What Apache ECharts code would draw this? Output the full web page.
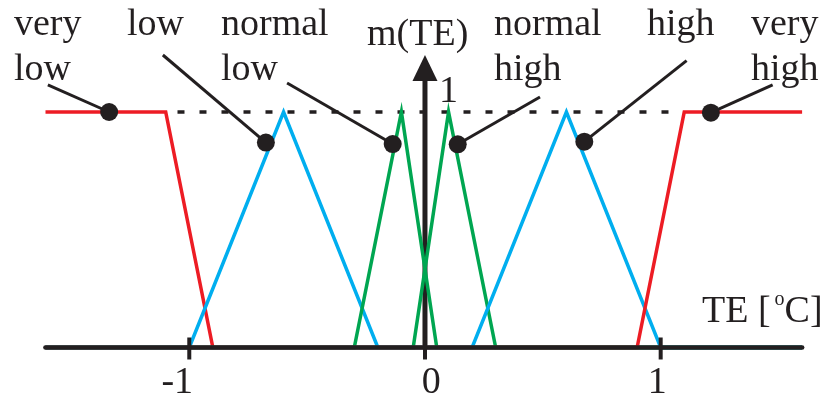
<!DOCTYPE html>
<html><head><meta charset="utf-8">
<script src="https://cdn.jsdelivr.net/npm/echarts@6/dist/echarts.min.js"></script>
<style>html,body{margin:0;padding:0;background:#fff}#c{width:830px;height:401px}</style>
</head><body><div id="c"></div>
<script>
// ---- data (TE in degC, membership m(TE)) ----
const veryLow    = [[-1.61,1],[-1.1,1],[-0.9,0],[1.6,0]];
const low        = [[-1.61,0],[-1.0,0],[-0.6,1],[-0.2,0],[1.6,0]];
const normalLow  = [[-1.61,0],[-0.3,0],[-0.1,1],[0.05,0],[1.6,0]];
const normalHigh = [[-1.61,0],[-0.05,0],[0.1,1],[0.3,0],[1.6,0]];
const high       = [[-1.61,0],[0.2,0],[0.6,1],[1.0,0],[1.6,0]];
const veryHigh   = [[-1.61,0],[0.9,0],[1.1,1],[1.6,1]];
const unityLine  = [[-1.05,1],[1.05,1]];
const xTicks     = [-1,0,1];
const tickLabels = ['-1','0','1'];
const calloutDots = [[-1.34,1.0],[-0.675,0.87],[-0.137,0.864],[0.139,0.863],[0.676,0.874],[1.213,0.997]];
const calloutEnds = [[-1.60,1.115],[-1.112,1.242],[-0.585,1.123],[0.488,1.064],[1.110,1.218],[1.475,1.115]];
const yArrowTop = 1.187;

const INK = '#231F20', RED = '#ED1C24', BLUE = '#00AEEF', GREEN = '#00A651';
const FONT = '"Liberation Serif", "Times New Roman", serif';
const tickLabelDx = [-12, 6.3, -3.4];

const chart = echarts.init(document.getElementById('c'), null, {renderer: 'canvas'});

function mf(data, color) {
  return {type:'line', data, symbol:'none', z:2, silent:true, animation:false, clip:false,
    lineStyle:{color, width:3.5, join:'miter', miterLimit:10}};
}

function txt(text, x, y, extra) {
  return Object.assign({type:'text', x, y, silent:true, z:10,
    style:{text, fill:INK, fontFamily:FONT, fontSize:38, lineHeight:45, align:'left', verticalAlign:'top'}}, extra||{});
}

chart.setOption({
  animation:false,
  backgroundColor:'#fff',
  grid:{left:45.5, right:27.9, top:0, bottom:0, containLabel:false, outerBoundsMode:'none'},
  xAxis:{type:'value', min:-1.61, max:1.6, z:5,
    axisLine:{onZero:true, lineStyle:{color:INK, width:4.7}},
    axisTick:{show:false}, splitLine:{show:false}, axisLabel:{show:false}},
  yAxis:{type:'value', min:-0.2272, max:1.4756, show:false},
  series:[
    {type:'line', data:unityLine, symbol:'none', z:1, silent:true, clip:false,
      lineStyle:{color:INK, width:3.5, type:[7,15]}},
    {type:'line', data:[[0,0],{value:[0,yArrowTop], symbol:'triangle', symbolSize:[25,26]}],
      symbol:'none', showSymbol:true, z:1, silent:true, clip:false,
      itemStyle:{color:INK, borderWidth:0}, lineStyle:{color:INK, width:5}},
    mf(veryLow, RED), mf(low, BLUE), mf(normalLow, GREEN),
    mf(normalHigh, GREEN), mf(high, BLUE), mf(veryHigh, RED),
    {type:'lines', coordinateSystem:'cartesian2d', z:3, silent:true,
      lineStyle:{color:INK, width:3, curveness:0, opacity:1},
      data:calloutDots.map((d,i)=>({coords:[calloutEnds[i], d]}))},
    {type:'scatter', data:calloutDots, symbolSize:18, z:4, silent:true, clip:false,
      itemStyle:{color:INK, opacity:1}},
    {type:'custom', z:6, silent:true, clip:false, data:xTicks.map((v,i)=>[v,0,i]),
      renderItem:(params, api)=>{
        const i = api.value(2);
        const p = api.coord([api.value(0), api.value(1)]);
        return {type:'group', children:[
          {type:'line', shape:{x1:p[0], y1:p[1]-10, x2:p[0], y2:p[1]+12},
            style:{stroke:INK, lineWidth:4}},
          {type:'text', x:p[0]+tickLabelDx[i], y:p[1]+16.5,
            style:{text:tickLabels[i], fill:INK, fontFamily:FONT, fontSize:38, lineHeight:38,
              align:'center', verticalAlign:'top'}}
        ]};
      }}
  ],
  graphic:[
    txt('very\nlow', 14, 2.5),
    txt('low', 127, 2.5),
    txt('normal\nlow', 221, 2.5),
    txt('m(TE)', 367, 12.5),
    txt('1', 439, 69.5),
    txt('normal\nhigh', 494, 2.5),
    txt('high', 647, 2.5),
    txt('very\nhigh', 751, 2.5),
    {type:'text', x:702, y:289.5, silent:true, z:10,
      style:{text:'{a|TE [}{s|o}{a|C]}', align:'left', verticalAlign:'top', fill:INK,
        rich:{a:{fontFamily:FONT, fontSize:38, lineHeight:45, fill:INK, color:INK},
              s:{fontFamily:FONT, fontSize:20, lineHeight:24.5, verticalAlign:'top', padding:[0,0,0,4], fill:INK, color:INK}}}}
  ]
});
</script></body></html>
